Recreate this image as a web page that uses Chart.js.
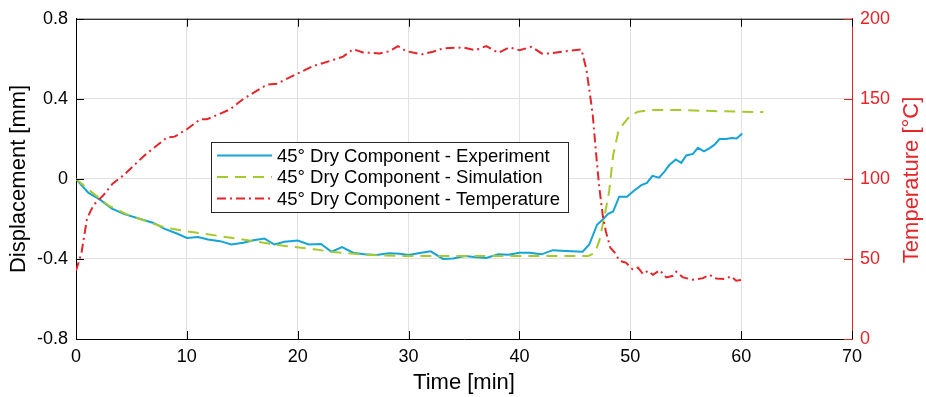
<!DOCTYPE html>
<html>
<head>
<meta charset="utf-8">
<script src="https://cdn.jsdelivr.net/npm/chart.js@4/dist/chart.umd.min.js"></script>
<style>
html,body{margin:0;padding:0;background:#fff;}
#wrap{position:relative;width:926px;height:397px;}
</style>
</head>
<body>
<div id="wrap"><canvas id="c"></canvas></div>
<script>
// ---- data ----
const expTime = [0,1.1,2.2,3.2,4.3,5.8,7.0,8.0,9.1,10.0,11.0,11.9,13.0,14.0,15.1,16.0,17.0,17.9,18.8,20.0,21.0,22.1,23.05,24.0,25.0,26.0,27.1,28.2,29.2,30.0,31.0,32.0,33.1,34.0,35.1,36.1,37.0,38.1,39.0,40.0,40.9,42.0,43.0,44.2,45.7,46.3,47.0,47.5,48.0,48.45,49.0,49.7,50.3,51.0,51.5,52.0,52.6,53.1,53.5,54.1,54.6,55.05,55.65,56.1,56.65,57.2,57.6,58.05,58.65,59.1,59.6,60.1];
const expDisp = [0,-0.069,-0.105,-0.147,-0.175,-0.2,-0.22,-0.25,-0.273,-0.295,-0.29,-0.303,-0.311,-0.328,-0.319,-0.307,-0.298,-0.328,-0.314,-0.308,-0.328,-0.325,-0.364,-0.341,-0.369,-0.376,-0.38,-0.372,-0.374,-0.38,-0.37,-0.362,-0.4,-0.398,-0.385,-0.392,-0.395,-0.377,-0.379,-0.369,-0.369,-0.377,-0.356,-0.36,-0.364,-0.328,-0.229,-0.204,-0.175,-0.163,-0.089,-0.089,-0.06,-0.031,-0.02,0.015,0.006,0.038,0.068,0.097,0.08,0.117,0.125,0.155,0.138,0.155,0.171,0.199,0.199,0.204,0.202,0.227];

const simTime = [0,1.5,3,4.5,6,8,10,13,16,19,21.5,23.2,26,29,46.2,46.8,47.2,47.7,48.1,48.45,48.9,49.35,49.95,50.7,51.75,54.5,57.5,60,62];
const simDisp = [0,-0.07,-0.135,-0.175,-0.205,-0.243,-0.262,-0.286,-0.311,-0.336,-0.352,-0.365,-0.379,-0.385,-0.385,-0.37,-0.31,-0.18,-0.06,0.117,0.232,0.273,0.314,0.336,0.344,0.344,0.339,0.336,0.334];

const tempTime = [0,0.5,1.0,1.6,2.5,3.3,4.3,6.1,8.2,8.9,10,11.2,11.8,13.9,15.1,16,17.2,18.1,20.2,21.4,23.2,24.1,25,25.9,27.4,28.3,29.05,29.8,31.2,32.2,33.1,34.9,36,37,38.1,39.1,40,41.1,42,42.7,44.2,45.6,46.05,46.6,46.9,47.2,47.5,47.8,48.2,48.6,49.05,49.6,50.2,50.7,51.15,51.6,52.05,52.65,53.25,53.85,54.15,54.75,55.65,56.55,57.15,57.75,58.5,59.1,59.55,60];
const tempVal = [42.6,54,75.5,83.8,90,97,102.3,114.2,125.9,126.4,131,137.2,137.2,143.4,150,153.7,158.8,159.4,166.5,170.5,174.3,176.4,181,179,178.4,179.8,182.9,179.8,177.8,179.4,181.5,182.1,180.4,182.9,178.8,182.1,180.4,182.5,178.4,178.4,179.8,180.9,168,141,117,95,78,67,57,53.9,48.8,47.7,43.6,44.6,40.5,42.6,40.1,43,38.5,39.5,42,38.5,37,38,40.1,37.8,37.5,39.1,36.4,36.8];

const xTicks = [0,10,20,30,40,50,60,70];
const xTickLabels = ['0','10','20','30','40','50','60','70'];
const yTicks = [-0.8,-0.4,0,0.4,0.8];
const yTickLabels = ['-0.8','-0.4','0','0.4','0.8'];
const tTicks = [0,50,100,150,200];
const tTickLabels = ['0','50','100','150','200'];
const seriesNames = ['45° Dry Component - Experiment','45° Dry Component - Simulation','45° Dry Component - Temperature'];
const rightTitle = 'Temperature [°C]';

const BLUE = '#16a3d6', GREEN = '#a6c92e', RED = '#e5252a', RED_AXIS = '#d9262b';
const FONT = '"Liberation Sans", Arial, sans-serif';
const zip = (xs, ys) => xs.map((x,i)=>({x:x,y:ys[i]}));

const inwardTicks = {
  id:'inwardTicks',
  afterDraw(chart){
    const {ctx, chartArea:a, scales} = chart;
    ctx.save();
    ctx.lineWidth = 1;
    // top border
    ctx.strokeStyle = '#000';
    ctx.beginPath(); ctx.moveTo(a.left, a.top+0.5); ctx.lineTo(a.right, a.top+0.5); ctx.stroke();
    const L = 8;
    ctx.beginPath();
    xTicks.forEach(v=>{
      const px = Math.round(scales.x.getPixelForValue(v))+0.5;
      ctx.moveTo(px, a.bottom); ctx.lineTo(px, a.bottom-L);
      ctx.moveTo(px, a.top); ctx.lineTo(px, a.top+L);
    });
    yTicks.forEach(v=>{
      const py = Math.round(scales.y.getPixelForValue(v))+0.5;
      ctx.moveTo(a.left, py); ctx.lineTo(a.left+L, py);
    });
    ctx.stroke();
    ctx.strokeStyle = RED_AXIS;
    ctx.beginPath();
    tTicks.forEach(v=>{
      const py = Math.round(scales.y2.getPixelForValue(v))+0.5;
      ctx.moveTo(a.right, py); ctx.lineTo(a.right-L, py);
    });
    ctx.stroke();

    // right axis title, reading bottom-to-top
    ctx.save();
    ctx.translate(912, (a.top + a.bottom)/2 + 1);
    ctx.rotate(-Math.PI/2);
    ctx.font = '22px ' + FONT;
    ctx.fillStyle = RED;
    ctx.textAlign = 'center';
    ctx.textBaseline = 'middle';
    ctx.fillText(rightTitle, 0, 0);
    ctx.restore();

    // legend box
    const bx = 211.5, by = 142.5, bw = 357, bh = 70;
    ctx.fillStyle = '#fff';
    ctx.fillRect(bx, by, bw, bh);
    ctx.strokeStyle = '#262626';
    ctx.strokeRect(bx, by, bw, bh);
    const rows = [155.5, 177, 198.5];
    const styles = [
      {c:BLUE, d:[]},
      {c:GREEN, d:[11,7]},
      {c:RED, d:[9,4,2,4]}
    ];
    ctx.font = '18.5px ' + FONT;
    ctx.textBaseline = 'middle';
    ctx.textAlign = 'left';
    rows.forEach((ry,i)=>{
      ctx.strokeStyle = styles[i].c;
      ctx.lineWidth = 2;
      ctx.setLineDash(styles[i].d);
      ctx.beginPath(); ctx.moveTo(217, ry); ctx.lineTo(272, ry); ctx.stroke();
      ctx.setLineDash([]);
      ctx.fillStyle = '#000';
      ctx.fillText(seriesNames[i], 277, ry+1);
    });
    ctx.restore();
  }
};

new Chart(document.getElementById('c'), {
  type:'line',
  data:{
    datasets:[
      {label:seriesNames[0], data:zip(expTime,expDisp), yAxisID:'y', borderColor:BLUE, borderWidth:2, pointRadius:0, tension:0, order:3},
      {label:seriesNames[1], data:zip(simTime,simDisp), yAxisID:'y', borderColor:GREEN, borderWidth:2, borderDash:[11,7], pointRadius:0, tension:0, order:2},
      {label:seriesNames[2], data:zip(tempTime,tempVal), yAxisID:'y2', borderColor:RED, borderWidth:2, borderDash:[9,4,2,4], pointRadius:0, tension:0, order:1}
    ]
  },
  options:{
    responsive:true, maintainAspectRatio:false, animation:false,
    layout:{padding:{top:15,left:0,right:0,bottom:0}},
    plugins:{legend:{display:false}, tooltip:{enabled:false}},
    scales:{
      x:{
        type:'linear', min:0, max:70,
        afterBuildTicks(s){ s.ticks = xTicks.map(v=>({value:v})); },
        afterFit(s){ s.height = 58; },
        ticks:{color:'#000', font:{family:FONT, size:18}, padding:7, maxRotation:0,
          callback:(v)=>xTickLabels[xTicks.indexOf(v)]},
        grid:{color:'#e1e1e1', drawTicks:false, lineWidth:1},
        border:{display:true, color:'#000', width:1},
        title:{display:true, text:'Time [min]', color:'#000', font:{family:FONT, size:22}, padding:{top:0,bottom:1}}
      },
      y:{
        type:'linear', position:'left', min:-0.8, max:0.8,
        afterBuildTicks(s){ s.ticks = yTicks.map(v=>({value:v})); },
        afterFit(s){ s.width = 76; },
        ticks:{color:'#000', font:{family:FONT, size:18}, padding:8,
          callback:(v)=>yTickLabels[yTicks.indexOf(v)]},
        grid:{color:'#e1e1e1', drawTicks:false, lineWidth:1},
        border:{display:true, color:'#000', width:1},
        title:{display:true, text:'Displacement [mm]', color:'#000', font:{family:FONT, size:22}, padding:{top:6,bottom:0}}
      },
      y2:{
        type:'linear', position:'right', min:0, max:200,
        afterBuildTicks(s){ s.ticks = tTicks.map(v=>({value:v})); },
        afterFit(s){ s.width = 74; },
        ticks:{color:RED, font:{family:FONT, size:18}, padding:8,
          callback:(v)=>tTickLabels[tTicks.indexOf(v)]},
        grid:{display:false, drawTicks:false},
        border:{display:true, color:RED_AXIS, width:1},
        title:{display:false}
      }
    }
  },
  plugins:[inwardTicks]
});
</script>
</body>
</html>
